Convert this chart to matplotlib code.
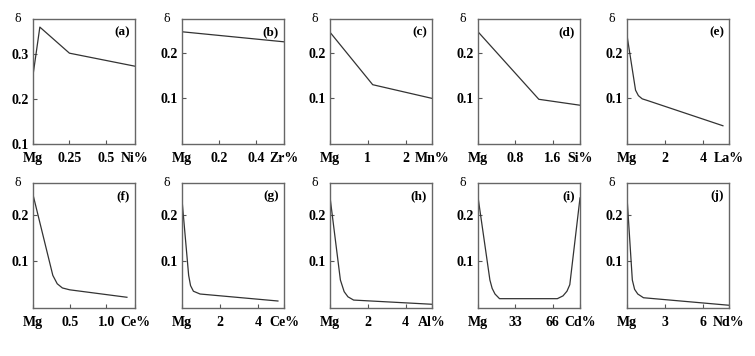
import numpy as np
import matplotlib
matplotlib.use('Agg')
import matplotlib.pyplot as plt

# panel data: (x %, delta)
a_x = [0, 0.047, 0.25, 0.70]
a_y = [0.253, 0.360, 0.302, 0.273]
b_x = [0, 0.55]
b_y = [0.246, 0.224]
c_x = [0, 1.13, 2.70]
c_y = [0.245, 0.130, 0.100]
d_x = [0, 1.30, 2.18]
d_y = [0.246, 0.098, 0.085]
e_x = [0, 0.03, 0.45, 0.60, 0.80, 1.10, 5.05]
e_y = [0.240, 0.230, 0.118, 0.106, 0.099, 0.095, 0.040]
f_x = [0, 0.27, 0.33, 0.40, 0.50, 1.28]
f_y = [0.243, 0.070, 0.052, 0.043, 0.039, 0.023]
g_x = [0, 0.35, 0.45, 0.60, 0.95, 5.05]
g_y = [0.232, 0.070, 0.048, 0.036, 0.030, 0.015]
h_x = [0, 0.55, 0.75, 0.95, 1.25, 5.40]
h_y = [0.238, 0.060, 0.035, 0.024, 0.017, 0.008]
i_x = [0, 10.5, 12.5, 15.0, 19.0, 70.0, 75.0, 78.5, 81.0, 90.0]
i_y = [0.238, 0.060, 0.042, 0.030, 0.020, 0.020, 0.026, 0.036, 0.050, 0.236]
j_x = [0, 0.42, 0.60, 0.85, 1.30, 8.0]
j_y = [0.238, 0.060, 0.040, 0.030, 0.022, 0.006]

panels = [
    ('(a)', a_x, a_y, 0.70, [0.25, 0.5], ['0.25', '0.5'], 'Ni%', (0.1, 0.378), [0.1, 0.2, 0.3]),
    ('(b)', b_x, b_y, 0.55, [0.2, 0.4], ['0.2', '0.4'], 'Zr%', (0.0, 0.274), [0.1, 0.2]),
    ('(c)', c_x, c_y, 2.70, [1, 2], ['1', '2'], 'Mn%', (0.0, 0.274), [0.1, 0.2]),
    ('(d)', d_x, d_y, 2.18, [0.8, 1.6], ['0.8', '1.6'], 'Si%', (0.0, 0.274), [0.1, 0.2]),
    ('(e)', e_x, e_y, 5.37, [2, 4], ['2', '4'], 'La%', (0.0, 0.274), [0.1, 0.2]),
    ('(f)', f_x, f_y, 1.39, [0.5, 1.0], ['0.5', '1.0'], 'Ce%', (0.0, 0.268), [0.1, 0.2]),
    ('(g)', g_x, g_y, 5.37, [2, 4], ['2', '4'], 'Ce%', (0.0, 0.268), [0.1, 0.2]),
    ('(h)', h_x, h_y, 5.40, [2, 4], ['2', '4'], 'Al%', (0.0, 0.268), [0.1, 0.2]),
    ('(i)', i_x, i_y, 90.0, [33, 66], ['33', '66'], 'Cd%', (0.0, 0.268), [0.1, 0.2]),
    ('(j)', j_x, j_y, 8.05, [3, 6], ['3', '6'], 'Nd%', (0.0, 0.268), [0.1, 0.2]),
]

plt.rcParams['font.family'] = ['Liberation Serif', 'DejaVu Serif']
plt.rcParams['font.weight'] = 'bold'

W, H = 755, 356
fig = plt.figure(figsize=(W / 100, H / 100), dpi=100)

lefts = [33, 182, 330, 478, 627]
tops = [19, 183]
aw, ah = 102, 125

for k, (lab, xs, ys, xmax, xt, xtl, elem, ylim, yt) in enumerate(panels):
    row, col = divmod(k, 5)
    l = lefts[col] / W
    b = 1 - (tops[row] + ah) / H
    ax = fig.add_axes([l, b, aw / W, ah / H])
    ax.plot(xs, ys, color='#333333', lw=0.9)
    ax.set_xlim(0, xmax)
    ax.set_ylim(*ylim)
    ax.set_xticks([0] + xt + [xmax])
    ax.set_xticklabels(['Mg'] + xtl + [elem])
    ax.set_yticks(yt)
    ax.set_yticklabels(['%.1f' % v for v in yt])
    ax.tick_params(direction='in', length=3, width=0.8, labelsize=10,
                   color='#555555', pad=3)
    ax.tick_params(axis='x', pad=6)
    for s in ax.spines.values():
        s.set_color('#666666')
        s.set_linewidth(1.0)
    ax.text(0.95, 0.94, lab, transform=ax.transAxes, ha='right', va='top',
            fontsize=9.5)
    ax.text(-0.15, 1.0, '\u03b4', transform=ax.transAxes, ha='center',
            va='center', fontsize=8, weight='normal', family='DejaVu Serif')

fig.savefig('out.png', dpi=100)
